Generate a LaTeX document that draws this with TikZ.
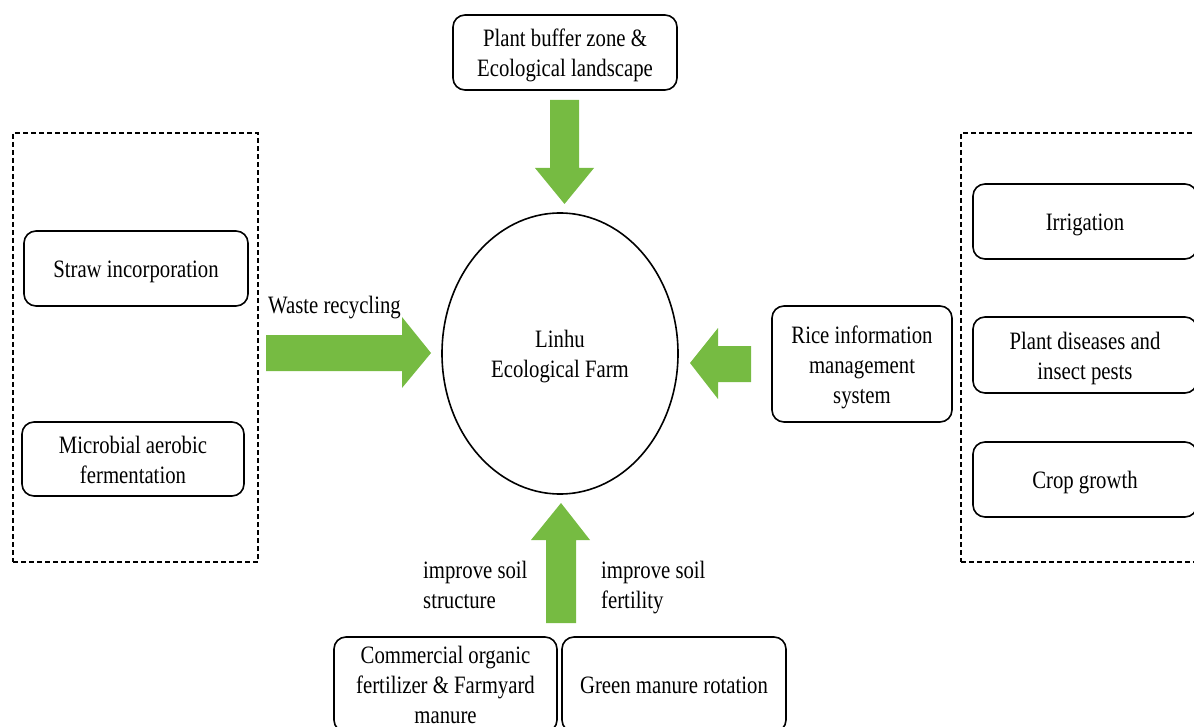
\documentclass[tikz,border=0pt]{standalone}
\usepackage{fontspec}
\setmainfont{Liberation Serif}[FakeStretch=0.83]
\usetikzlibrary{shapes.geometric}
\definecolor{arrowgreen}{RGB}{118,187,66}
\newcommand{\lowertext}[1]{\raisebox{-3pt}[\height][\depth]{\begin{tabular}{@{}c@{}}#1\end{tabular}}}
\begin{document}
\begin{tikzpicture}[x=1pt,y=-1pt,
  every node/.style={font=\fontsize{25}{30}\selectfont},
  box/.style={draw, line width=1.6pt, rounded corners=12pt, align=center, inner sep=0pt},
  frame/.style={draw, line width=1.2pt, dash pattern=on 5pt off 3pt, inner sep=0pt},
  blockarrow/.style={fill=arrowgreen, draw=none},
  lbl/.style={align=left, inner sep=0pt}]
\useasboundingbox (0,0) rectangle (1194,727);
\clip (0,0) rectangle (1194,727);

% dashed frames
\node[frame, minimum width=245pt, minimum height=429pt] (leftframe) at (135.5,347.5) {};
\node[frame, minimum width=245pt, minimum height=429pt] (rightframe) at (1083.5,347.5) {};

% boxes
\node[box, minimum width=224pt, minimum height=75pt] (buffer) at (565,52.5) {\lowertext{Plant buffer zone \&\\Ecological landscape}};
\node[box, minimum width=224pt, minimum height=75pt] (straw) at (136,268.5) {\lowertext{Straw incorporation}};
\node[box, minimum width=222pt, minimum height=74pt] (microbial) at (133,459) {\lowertext{Microbial aerobic\\fermentation}};
\node[box, minimum width=180pt, minimum height=116pt] (rice) at (862,364) {\lowertext{Rice information\\management\\system}};
\node[box, minimum width=224pt, minimum height=75pt] (irrigation) at (1085,221.5) {\lowertext{Irrigation}};
\node[box, minimum width=224pt, minimum height=76pt] (pests) at (1085,355) {\lowertext{Plant diseases and\\insect pests}};
\node[box, minimum width=224pt, minimum height=75pt] (crop) at (1085,479.5) {\lowertext{Crop growth}};
\node[box, minimum width=223pt, minimum height=95pt] (organic) at (445.5,684.5) {\lowertext{Commercial organic\\fertilizer \& Farmyard\\manure}};
\node[box, minimum width=224pt, minimum height=95pt] (green) at (674,684.5) {\lowertext{Green manure rotation}};

% central ellipse
\node[draw, ellipse, line width=1.6pt, minimum width=236pt, minimum height=281pt, align=center, inner sep=0pt] (farm) at (560,353.5) {\lowertext{Linhu\\Ecological Farm}};

% block arrows
\fill[blockarrow] (550,100) -- (579,100) -- (579,168) -- (594,168) -- (564.5,204) -- (535,168) -- (550,168) -- cycle;
\fill[blockarrow] (266,335) -- (402,335) -- (402,317) -- (431,353) -- (402,388) -- (402,371) -- (266,371) -- cycle;
\fill[blockarrow] (751,346) -- (718,346) -- (718,328) -- (690,363) -- (718,399) -- (718,382) -- (751,382) -- cycle;
\fill[blockarrow] (546,623) -- (546,540) -- (531,540) -- (561,503) -- (590,540) -- (576,540) -- (576,623) -- cycle;

% labels
\node[lbl, anchor=base west] (waste) at (268,313) {Waste recycling};
\node[lbl, anchor=base west] (structure) at (423,608) {improve soil\\structure};
\node[lbl, anchor=base west] (fertility) at (601,608) {improve soil\\fertility};
\end{tikzpicture}
\end{document}
